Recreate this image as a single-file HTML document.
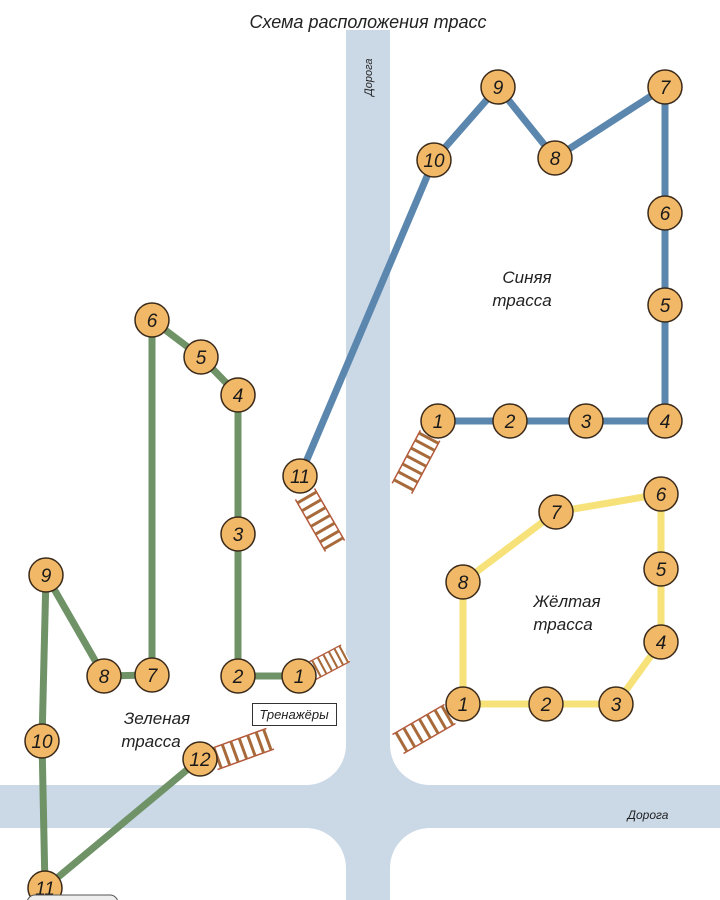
<!DOCTYPE html>
<html><head><meta charset="utf-8"><style>
html,body{margin:0;padding:0;background:#fff}
svg{display:block}
text{font-family:"Liberation Sans",sans-serif;font-style:italic;fill:#222}
.n{font-size:19px;text-anchor:middle;fill:#1a1a1a}
</style></head><body>
<svg width="720" height="900" viewBox="0 0 720 900" xmlns="http://www.w3.org/2000/svg">
<defs>
<g id="lad">
<rect x="-30" y="-11" width="60" height="22" fill="#fff"/>
<line x1="-30" y1="-11" x2="30" y2="-11" stroke="#b5573a" stroke-width="1.5"/>
<line x1="-30" y1="11" x2="30" y2="11" stroke="#b5573a" stroke-width="1.5"/>
<g stroke="#a86a3a" stroke-width="3">
<line x1="-26" y1="-11" x2="-26" y2="11"/><line x1="-17" y1="-11" x2="-17" y2="11"/>
<line x1="-8" y1="-11" x2="-8" y2="11"/><line x1="1" y1="-11" x2="1" y2="11"/>
<line x1="10" y1="-11" x2="10" y2="11"/><line x1="19" y1="-11" x2="19" y2="11"/>
<line x1="27" y1="-11" x2="27" y2="11"/>
</g>
</g>
</defs>
<rect width="720" height="900" fill="#fff"/>
<g fill="#cbd8e6">
<rect x="346" y="30" width="44" height="870"/>
<rect x="0" y="785" width="720" height="43"/>
<rect x="306" y="745" width="40" height="40"/>
<rect x="390" y="745" width="40" height="40"/>
<rect x="306" y="828" width="40" height="40"/>
<rect x="390" y="828" width="40" height="40"/>
</g>
<g fill="#fff">
<circle cx="306" cy="745" r="40"/><circle cx="430" cy="745" r="40"/>
<circle cx="306" cy="868" r="40"/><circle cx="430" cy="868" r="40"/>
</g>
<text x="368" y="28" font-size="18" text-anchor="middle">Схема расположения  трасс</text>
<text x="0" y="0" font-size="11" transform="translate(372,96) rotate(-90)">Дорога</text>
<text x="648" y="819" font-size="12" text-anchor="middle">Дорога</text>

<!-- ladders -->
<use href="#lad" transform="translate(320,520) rotate(60)"/>
<use href="#lad" transform="translate(416,462) rotate(-62)"/>
<use href="#lad" transform="translate(424,729) rotate(-30)"/>
<use href="#lad" transform="translate(242,749) rotate(-20)"/>
<use href="#lad" transform="translate(327,663) rotate(-28) scale(0.7,0.85)"/>

<!-- blue -->
<polyline points="300,476 434,160 498,87 555,158 665,87 665,213 665,305 665,421 586,421 510,421 438,421" fill="none" stroke="#5b87ae" stroke-width="7" stroke-linejoin="round"/>
<!-- yellow -->
<polygon points="463,704 546,704 616,704 661,642 661,569 661,494 556,512 463,582" fill="none" stroke="#f7e27a" stroke-width="7" stroke-linejoin="round"/>
<!-- green -->
<polyline points="299,676 238,676 238,534 238,395 201,357 152,320 152,675 104,676 46,575 42,741 45,888 200,759" fill="none" stroke="#6f9367" stroke-width="7" stroke-linejoin="round"/>

<g fill="#f1b867" stroke="#3a2a1a" stroke-width="1.5">
<circle cx="434" cy="160" r="17"/><circle cx="498" cy="87" r="17"/><circle cx="555" cy="158" r="17"/>
<circle cx="665" cy="87" r="17"/><circle cx="665" cy="213" r="17"/><circle cx="665" cy="305" r="17"/>
<circle cx="665" cy="421" r="17"/><circle cx="586" cy="421" r="17"/><circle cx="510" cy="421" r="17"/>
<circle cx="438" cy="421" r="17"/><circle cx="300" cy="476" r="17"/>
<circle cx="463" cy="704" r="17"/><circle cx="546" cy="704" r="17"/><circle cx="616" cy="704" r="17"/>
<circle cx="661" cy="642" r="17"/><circle cx="661" cy="569" r="17"/><circle cx="661" cy="494" r="17"/>
<circle cx="556" cy="512" r="17"/><circle cx="463" cy="582" r="17"/>
<circle cx="299" cy="676" r="17"/><circle cx="238" cy="676" r="17"/><circle cx="238" cy="534" r="17"/>
<circle cx="238" cy="395" r="17"/><circle cx="201" cy="357" r="17"/><circle cx="152" cy="320" r="17"/>
<circle cx="152" cy="675" r="17"/><circle cx="104" cy="676" r="17"/><circle cx="46" cy="575" r="17"/>
<circle cx="42" cy="741" r="17"/><circle cx="45" cy="888" r="17"/><circle cx="200" cy="759" r="17"/>
</g>
<g class="n">
<text class="n" x="434" y="167">10</text><text class="n" x="498" y="94">9</text><text class="n" x="555" y="165">8</text>
<text class="n" x="665" y="94">7</text><text class="n" x="665" y="220">6</text><text class="n" x="665" y="312">5</text>
<text class="n" x="665" y="428">4</text><text class="n" x="586" y="428">3</text><text class="n" x="510" y="428">2</text>
<text class="n" x="438" y="428">1</text><text class="n" x="300" y="483">11</text>
<text class="n" x="463" y="711">1</text><text class="n" x="546" y="711">2</text><text class="n" x="616" y="711">3</text>
<text class="n" x="661" y="649">4</text><text class="n" x="661" y="576">5</text><text class="n" x="661" y="501">6</text>
<text class="n" x="556" y="519">7</text><text class="n" x="463" y="589">8</text>
<text class="n" x="299" y="683">1</text><text class="n" x="238" y="683">2</text><text class="n" x="238" y="541">3</text>
<text class="n" x="238" y="402">4</text><text class="n" x="201" y="364">5</text><text class="n" x="152" y="327">6</text>
<text class="n" x="152" y="682">7</text><text class="n" x="104" y="683">8</text><text class="n" x="46" y="582">9</text>
<text class="n" x="42" y="748">10</text><text class="n" x="45" y="895">11</text><text class="n" x="200" y="766">12</text>
</g>

<text x="527" y="283" font-size="17" text-anchor="middle">Синяя</text>
<text x="522" y="306" font-size="17" text-anchor="middle">трасса</text>
<text x="567" y="607" font-size="17" text-anchor="middle">Жёлтая</text>
<text x="563" y="630" font-size="17" text-anchor="middle">трасса</text>
<text x="157" y="724" font-size="17" text-anchor="middle">Зеленая</text>
<text x="151" y="747" font-size="17" text-anchor="middle">трасса</text>
<rect x="252.5" y="703.5" width="84" height="22" fill="#fff" stroke="#333" stroke-width="1"/>
<text x="294" y="719" font-size="13" text-anchor="middle">Тренажёры</text>
<rect x="27" y="895" width="91" height="20" rx="8" fill="#eee" stroke="#555" stroke-width="1"/>
</svg>
</body></html>
